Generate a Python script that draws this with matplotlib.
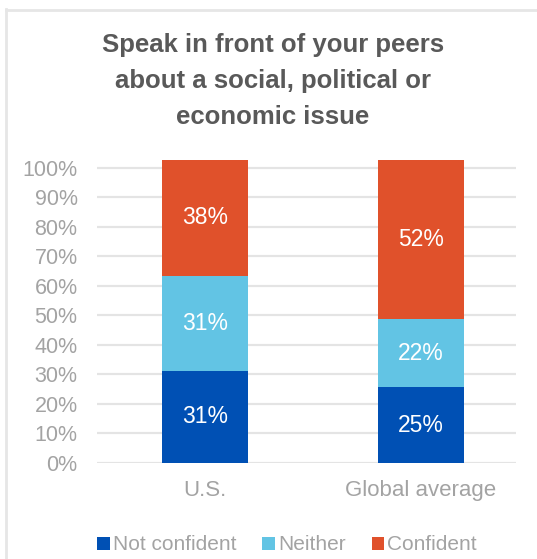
import matplotlib
matplotlib.use("Agg")
import matplotlib.pyplot as plt
from matplotlib.lines import Line2D
from matplotlib.patches import Patch

categories = ["U.S.", "Global average"]
series = ["Not confident", "Neither", "Confident"]
colors = ["#0050B4", "#62C4E4", "#E0512B"]
# segment heights as drawn in the picture (stack runs a bit past 100%)
not_confident = [31.3, 25.7]
neither = [32.1, 23.1]
confident = [39.3, 53.9]
# printed labels
lbl_not_confident = ["31%", "25%"]
lbl_neither = ["31%", "22%"]
lbl_confident = ["38%", "52%"]
yticks = [0, 10, 20, 30, 40, 50, 60, 70, 80, 90, 100]

plt.rcParams["font.family"] = ["Liberation Sans", "DejaVu Sans"]
gray = "#A3A3A3"

fig = plt.figure(figsize=(5.37, 5.59), dpi=100)
W, H = 537, 559
ax = fig.add_axes([97 / W, 1 - 463 / H, (516 - 97) / W, (463 - 160) / H])

x = [0, 1]
bottoms = [0, 0]
heights = [not_confident, neither, confident]
labels = [lbl_not_confident, lbl_neither, lbl_confident]
for vals, lbls, c in zip(heights, labels, colors):
    ax.bar(x, vals, bottom=bottoms, width=0.398, color=c, zorder=3)
    for xi, v, b, t in zip(x, vals, bottoms, lbls):
        ax.text(xi, b + v / 2, t, ha="center", va="center", color="white",
                fontsize=16.5, zorder=4)
    bottoms = [b + v for b, v in zip(bottoms, vals)]

ax.set_xlim(-0.5, 1.44)
ax.set_ylim(0, 102.7)
ax.set_yticks(yticks)
ax.set_yticklabels([f"{t}%" for t in yticks], color=gray, fontsize=15.5)
ax.set_xticks(x)
ax.set_xticklabels(categories, color=gray, fontsize=16)
ax.tick_params(length=0)
ax.tick_params(axis="y", pad=14)
ax.tick_params(axis="x", pad=12)
ax.grid(axis="y", color="#E4E4E4", linewidth=1.6, zorder=0)
for s in ax.spines.values():
    s.set_visible(False)

fig.text(273 / W, 1 - 81 / H,
         "Speak in front of your peers\nabout a social, political or\neconomic issue",
         ha="center", va="center", fontsize=18.5, fontweight="bold",
         color="#595959", linespacing=1.62)

handles = [Patch(facecolor=c, edgecolor="none") for c in colors]
leg = fig.legend(handles, series, loc="center", bbox_to_anchor=(287 / W, 1 - 545 / H),
                 ncol=3, frameon=False, fontsize=15, handlelength=0.6,
                 handleheight=0.6, handletextpad=0.15, columnspacing=1.25)
for t in leg.get_texts():
    t.set_color(gray)

# light frame lines at top and left
fig.add_artist(Line2D([5.5 / W, 5.5 / W], [0, 1 - 9 / H], color="#E6E6E6",
                      linewidth=2, transform=fig.transFigure))
fig.add_artist(Line2D([5.5 / W, 1], [1 - 9.5 / H, 1 - 9.5 / H], color="#E6E6E6",
                      linewidth=2, transform=fig.transFigure))

fig.savefig("out.png", dpi=100)
